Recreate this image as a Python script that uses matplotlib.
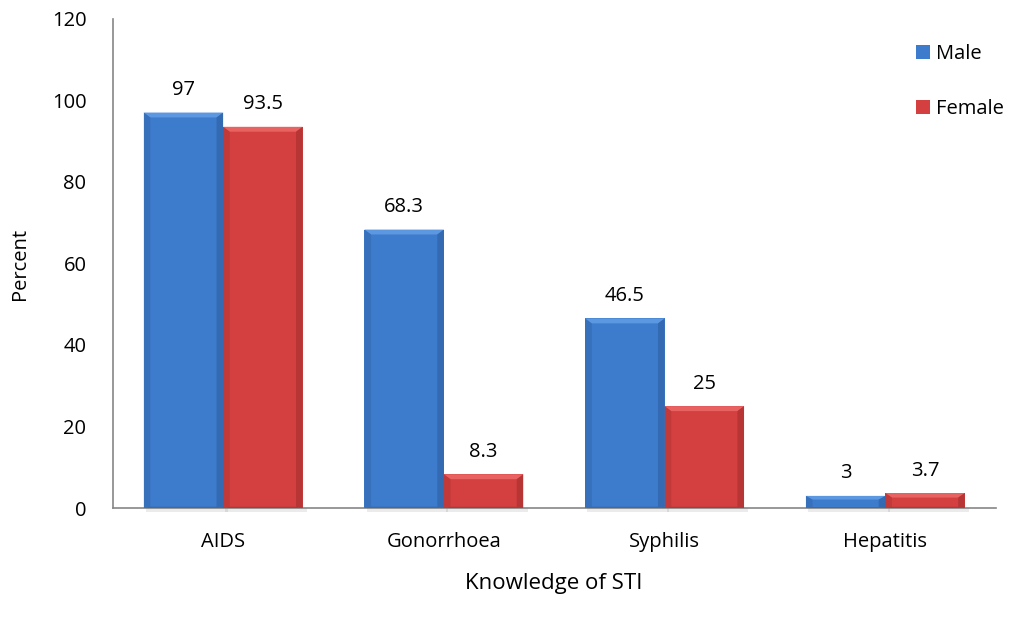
import numpy as np
import matplotlib
matplotlib.use("Agg")
import matplotlib.pyplot as plt
from matplotlib.patches import Polygon, Rectangle

categories = ["AIDS", "Gonorrhoea", "Syphilis", "Hepatitis"]
male = [97, 68.3, 46.5, 3]
female = [93.5, 8.3, 25, 3.7]
male_labels = ["97", "68.3", "46.5", "3"]
female_labels = ["93.5", "8.3", "25", "3.7"]
y_ticks = [0, 20, 40, 60, 80, 100, 120]

plt.rcParams["font.family"] = ["Open Sans", "DejaVu Sans"]
FS = 14.5

fig = plt.figure(figsize=(10.35, 6.25), dpi=100)
ax = fig.add_axes([0.109, 0.187, 0.853, 0.783])

x = np.arange(len(categories))
w = 0.36

series = [
    (male, male_labels, -w / 2, "#3d7bcc", "#5c97e2", "#2c5c9c", "Male"),
    (female, female_labels, w / 2, "#d44040", "#e86262", "#a02c2c", "Female"),
]

for vals, labs, off, base, light, dark, name in series:
    bars = ax.bar(x + off, vals, w, color=base, edgecolor="none", zorder=3, label=name)
    for b, v, lab in zip(bars, vals, labs):
        x0 = b.get_x()
        x1 = x0 + b.get_width()
        # bevel sizes in data units
        bx = 0.03
        by = min(1.2, v * 0.3)
        # soft shadow beneath the bar
        ax.add_patch(Rectangle((x0 + 0.01, 0.0), b.get_width() + 0.01, -1.0,
                               facecolor="#000000", alpha=0.08, zorder=2, clip_on=False))
        # top bevel (lighter)
        ax.add_patch(Polygon([(x0, v), (x1, v), (x1 - bx, v - by), (x0 + bx, v - by)],
                             closed=True, facecolor=light, edgecolor="none", zorder=4))
        # side bevels (darker)
        ax.add_patch(Polygon([(x0, v), (x0 + bx, v - by), (x0 + bx, by * 0.3), (x0, 0)],
                             closed=True, facecolor=dark, alpha=0.35, edgecolor="none", zorder=4))
        ax.add_patch(Polygon([(x1, v), (x1 - bx, v - by), (x1 - bx, by * 0.3), (x1, 0)],
                             closed=True, facecolor=dark, alpha=0.55, edgecolor="none", zorder=4))
        # bottom bevel
        ax.add_patch(Polygon([(x0, 0), (x1, 0), (x1 - bx, by * 0.3), (x0 + bx, by * 0.3)],
                             closed=True, facecolor=dark, alpha=0.5, edgecolor="none", zorder=4))
        ax.annotate(lab, (b.get_x() + b.get_width() / 2, v), xytext=(0, 9),
                    textcoords="offset points", ha="center", va="bottom", fontsize=FS,
                    color="#000000")

ax.set_xlim(-0.5, len(categories) - 0.5)
ax.set_ylim(0, 120)
ax.set_yticks(y_ticks)
ax.set_xticks(x)
ax.set_xticklabels(categories)
ax.tick_params(axis="both", length=0, labelsize=FS)
ax.tick_params(axis="y", pad=19)
ax.tick_params(axis="x", pad=17)
for s in ["top", "right"]:
    ax.spines[s].set_visible(False)
for s in ["left", "bottom"]:
    ax.spines[s].set_color("#868686")
    ax.spines[s].set_linewidth(1.2)

ax.set_ylabel("Percent", fontsize=FS, labelpad=16)
ax.set_xlabel("Knowledge of STI", fontsize=16, labelpad=15)

leg = ax.legend(loc="upper right", bbox_to_anchor=(1.03, 0.985), frameon=False, fontsize=FS,
                handlelength=0.7, handleheight=0.7, handletextpad=0.3, labelspacing=1.75)

fig.savefig("out.png", dpi=100)
